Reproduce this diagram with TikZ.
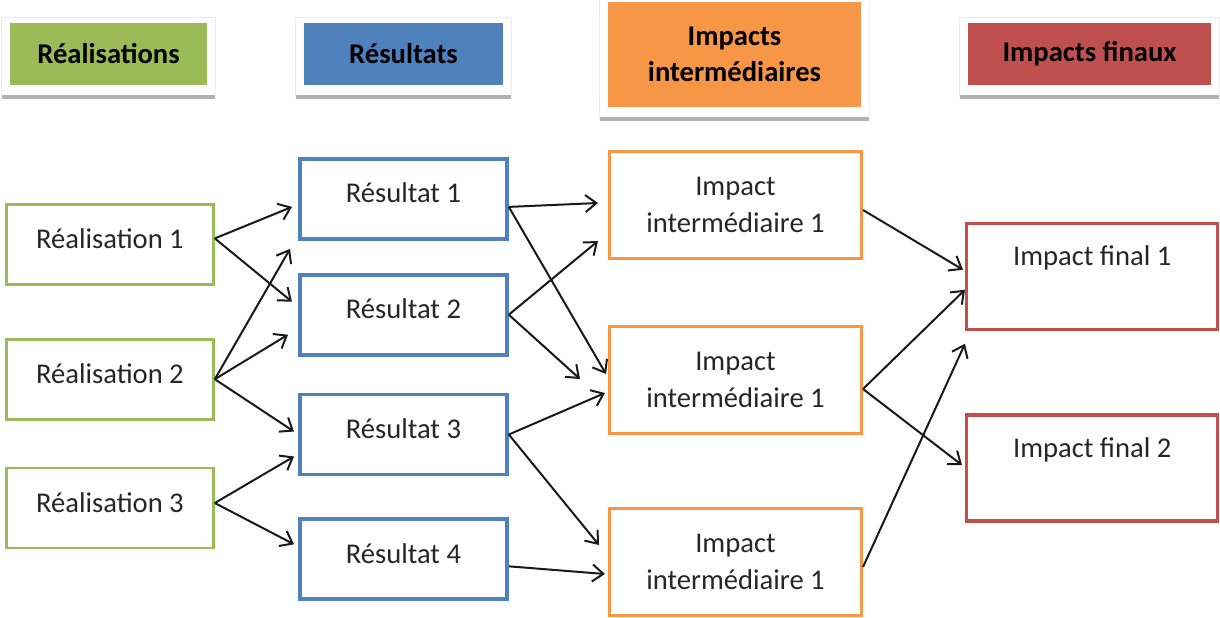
\documentclass[tikz,border=0pt]{standalone}
\usepackage{fontspec}
\setmainfont{Carlito}
\usetikzlibrary{arrows.meta,positioning,backgrounds}
\definecolor{realgreen}{HTML}{9BBB59}
\definecolor{resblue}{HTML}{4F81BD}
\definecolor{interorange}{HTML}{F79646}
\definecolor{finalred}{HTML}{C0504D}

\begin{document}
\begin{tikzpicture}[x=0.5pt, y=-0.5pt,
    font=\fontsize{14.3}{18.5}\selectfont, text=black!85,
    box/.style={rectangle, draw, inner sep=0pt, text height=22pt, text depth=18pt,
                minimum width=103.5pt, align=center},
    real node/.style={box, draw=realgreen, line width=1.4pt},
    res node/.style={box, draw=resblue, line width=1.9pt},
    inter node/.style={box, draw=interorange, line width=1.5pt, minimum width=126pt,
                       text height=, text depth=, minimum height=53.5pt},
    final node/.style={box, draw=finalred, line width=1.7pt, minimum width=125.5pt,
                       text height=21pt, text depth=32pt},
    head node/.style={rectangle, inner sep=0pt, minimum height=31pt, align=center,
                      font=\fontsize{14.3}{18}\selectfont\bfseries, text=black},
    arrow/.style={-{Straight Barb[length=5.5pt,width=8.5pt]}, line width=1pt, black!90}]
    \useasboundingbox (0,0) rectangle (1220,617);

    % headers
    \node[head node, fill=realgreen, minimum width=98.5pt] (hreal) at (108.5,54) {Réalisations};
    \node[head node, fill=resblue, minimum width=99.5pt] (hres) at (403.5,54) {Résultats};
    \node[head node, fill=interorange, minimum width=126.5pt, minimum height=52.5pt]
        (hinter) at (734.5,54.5) {Impacts\\intermédiaires};
    \node[head node, fill=finalred, minimum width=121.5pt] (hfin) at (1089.5,54) {Impacts finaux};

    \begin{scope}[on background layer]
        \foreach \h in {hreal,hres,hinter,hfin} {
            \draw[gray!15, fill=white] ([shift={(-8,-5)}]\h.north west) rectangle ([shift={(8,11)}]\h.south east);
            \draw[gray!60, line width=2pt] ([shift={(-8,12)}]\h.south west) -- ([shift={(8,12)}]\h.south east);
        }
    \end{scope}

    % boxes
    \node[real node, anchor=north west] (r1) at (5,203) {Réalisation 1};
    \node[real node, below=26pt of r1]  (r2) {Réalisation 2};
    \node[real node, below=23pt of r2]  (r3) {Réalisation 3};

    \node[res node, anchor=north west] (s1) at (298,157) {Résultat 1};
    \node[res node, below=16pt of s1]   (s2) {Résultat 2};
    \node[res node, below=18pt of s2]   (s3) {Résultat 3};
    \node[res node, below=20.5pt of s3] (s4) {Résultat 4};

    \node[inter node, anchor=north west] (i1) at (608,150) {Impact\\intermédiaire 1};
    \node[inter node, below=32.5pt of i1] (i2) {Impact\\intermédiaire 1};
    \node[inter node, below=36pt of i2]   (i3) {Impact\\intermédiaire 1};

    \node[final node, anchor=north west] (f1) at (965,222) {Impact final 1};
    \node[final node, below=41pt of f1]  (f2) {Impact final 2};

    % arrows
    \path[arrow]
    ([shift={(0,-6)}]r1.east) edge ([shift={(-6,8)}]s1.west)
                              edge ([shift={(-6,-13)}]s2.west)
    (r2.east) edge ([shift={(-8,50)}]s1.west)
              edge ([shift={(-10,20)}]s2.west)
              edge ([shift={(-4,-3)}]s3.west)
    ([shift={(0,-5)}]r3.east) edge ([shift={(-4,22)}]s3.west)
                              edge ([shift={(-4,-15)}]s4.west)
    ([shift={(0,8)}]s1.east) edge ([shift={(-10,-2)}]i1.west)
                             edge ([shift={(-2,-6)}]i2.west)
    (s2.east) edge ([shift={(-10,36)}]i1.west)
              edge ([shift={(-28,-1)}]i2.west)
    (s3.east) edge ([shift={(-3,13)}]i2.west)
              edge ([shift={(-9,-17)}]i3.west)
    ([shift={(0,7)}]s4.east) edge ([shift={(-3,12)}]i3.west)
    ([shift={(0,5)}]i1.east) edge ([shift={(-2,-7)}]f1.west)
    ([shift={(0,9)}]i2.east) edge ([shift={(0,13)}]f1.west)
                             edge ([shift={(-3,-3)}]f2.west)
    ([shift={(0,5)}]i3.east) edge ([shift={(0,67)}]f1.west);
\end{tikzpicture}
\end{document}
